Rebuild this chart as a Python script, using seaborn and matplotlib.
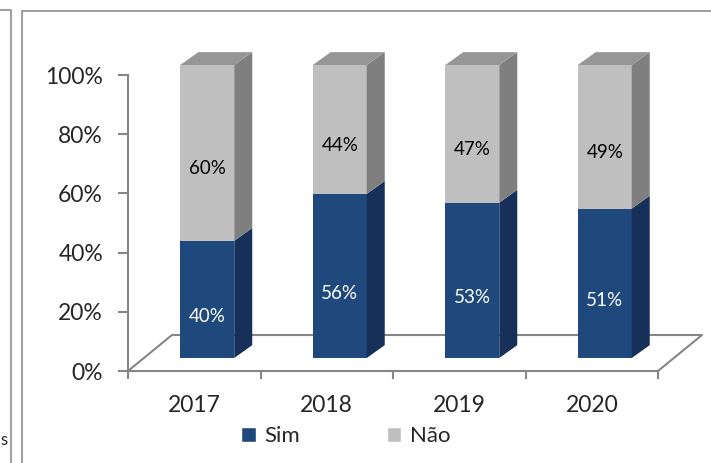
import matplotlib
matplotlib.use("Agg")
import numpy as np
import pandas as pd
import matplotlib.pyplot as plt
import matplotlib.transforms as mtransforms
from matplotlib.patches import Polygon, Patch
from matplotlib.lines import Line2D
import seaborn as sns

# Dados do gráfico
anos = ['2017', '2018', '2019', '2020']
sim = [40, 56, 53, 51]
nao = [60, 44, 47, 49]
yticks = [0, 20, 40, 60, 80, 100]

# Cores (estilo Excel 3D)
azul, azul_lado = '#1F497D', '#17305A'
cinza, cinza_lado, cinza_topo = '#BFBFBF', '#7F7F7F', '#969696'
eixo_cor = '#868686'

sns.set_style('white')
plt.rcParams['font.family'] = ['Lato', 'DejaVu Sans']

W, H = 711, 463
fig = plt.figure(figsize=(W / 100, H / 100), dpi=100)
ax = fig.add_axes([128 / W, 92 / H, 530 / W, 296 / H])

df = pd.DataFrame({'ano': anos, 'sim': sim, 'nao': nao})
df['total'] = df['sim'] + df['nao']

bar_w = 54 / 132.5
sns.barplot(data=df, x='ano', y='total', color=cinza, width=bar_w, saturation=1, ax=ax, zorder=3)
sns.barplot(data=df, x='ano', y='sim', color=azul, width=bar_w, saturation=1, ax=ax, zorder=3)

ax.set_xlim(-0.5, 3.5)
ax.set_ylim(0, 100)
px_y = 296 / 100  # pixels por unidade (%)
px_x = 132.5      # pixels por categoria

# deslocamento da face frontal (perspectiva) e profundidade das barras
base = 92
desloc = mtransforms.Affine2D().translate(0, -base).scale(1, 293 / 296).translate(13, base + 13)
tr = ax.transData + desloc
ddx, ddy = 18 / px_x, 13 / px_y

patches = list(ax.patches)
cinzas, azuis = patches[:4], patches[4:8]
for grupo, lado, topo in [(azuis, azul_lado, None), (cinzas, cinza_lado, cinza_topo)]:
    for i, p in enumerate(grupo):
        x0, y0, w, h = p.get_x(), p.get_y(), p.get_width(), p.get_height()
        if grupo is cinzas:
            # a barra cinza começa no topo da azul
            y0, h = sim[i], nao[i]
            p.set_y(y0)
            p.set_height(h)
        p.set_transform(tr)
        p.set_edgecolor('none')
        p.set_clip_on(False)
        ax.add_patch(Polygon([(x0 + w, y0), (x0 + w + ddx, y0 + ddy),
                              (x0 + w + ddx, y0 + h + ddy), (x0 + w, y0 + h)],
                             closed=True, facecolor=lado, edgecolor='none',
                             transform=tr, zorder=3, clip_on=False))
        if topo:
            ax.add_patch(Polygon([(x0, y0 + h), (x0 + ddx, y0 + h + ddy),
                                  (x0 + w + ddx, y0 + h + ddy), (x0 + w, y0 + h)],
                                 closed=True, facecolor=topo, edgecolor='none',
                                 transform=tr, zorder=3, clip_on=False))

# rótulos de dados
tr_txt = ax.transData + mtransforms.ScaledTranslation(0.13, -0.05, fig.dpi_scale_trans)
for i, ano in enumerate(anos):
    ax.text(i, sim[i] / 2, f'{sim[i]}%', ha='center', va='center', color='white',
            fontsize=13.5, transform=tr_txt, zorder=5)
    ax.text(i, sim[i] + nao[i] / 2, f'{nao[i]}%', ha='center', va='center', color='black',
            fontsize=13.5, transform=tr_txt, zorder=5)

# piso (chão 3D)
fdx, fdy = 44 / px_x, 36 / px_y
ax.add_line(Line2D([-0.5, -0.5 + fdx, 3.5 + fdx, 3.5], [0, fdy, fdy, 0],
                   color=eixo_cor, lw=1.5, zorder=1, clip_on=False))

# eixos
sns.despine(ax=ax, top=True, right=True)
for s in ['left', 'bottom']:
    ax.spines[s].set_color(eixo_cor)
    ax.spines[s].set_linewidth(1.5)
ax.set_yticks(yticks)
ax.set_yticklabels([f'{v}%' for v in yticks])
ax.tick_params(axis='y', length=7, width=1.5, color=eixo_cor, pad=11, labelsize=16.5, left=True)
ax.set_xticks(range(len(anos)))
ax.set_xticklabels(anos)
ax.set_xticks([-0.5, 0.5, 1.5, 2.5, 3.5], minor=True)
ax.tick_params(axis='x', which='major', length=0, pad=17, labelsize=16.5)
ax.tick_params(axis='x', which='minor', length=6, width=1.5, color=eixo_cor, bottom=True)
ax.set_xlabel('')
ax.set_ylabel('')
ax.patch.set_visible(False)

# legenda
handles = [Patch(facecolor=azul), Patch(facecolor=cinza)]
fig.legend(handles, ['Sim', 'Não'], loc='center', ncol=2, frameon=False,
           bbox_to_anchor=(346 / W, 1 - 436 / H), fontsize=16,
           handlelength=0.65, handleheight=0.65, handletextpad=0.4, columnspacing=3.9)

# bordas das áreas de gráfico
borda = '#A0A0A0'
fig.add_artist(Line2D([22 / W, 22 / W, 1], [0, 1 - 11 / H, 1 - 11 / H],
                      color=borda, lw=1.5, transform=fig.transFigure))
fig.add_artist(Line2D([0, 11 / W, 11 / W], [1 - 10 / H, 1 - 10 / H, 0],
                      color=borda, lw=1.5, transform=fig.transFigure))
fig.text(8 / W, 1 - 440 / H, 's', ha='right', va='center', fontsize=12)

fig.savefig('out.png', dpi=100)
